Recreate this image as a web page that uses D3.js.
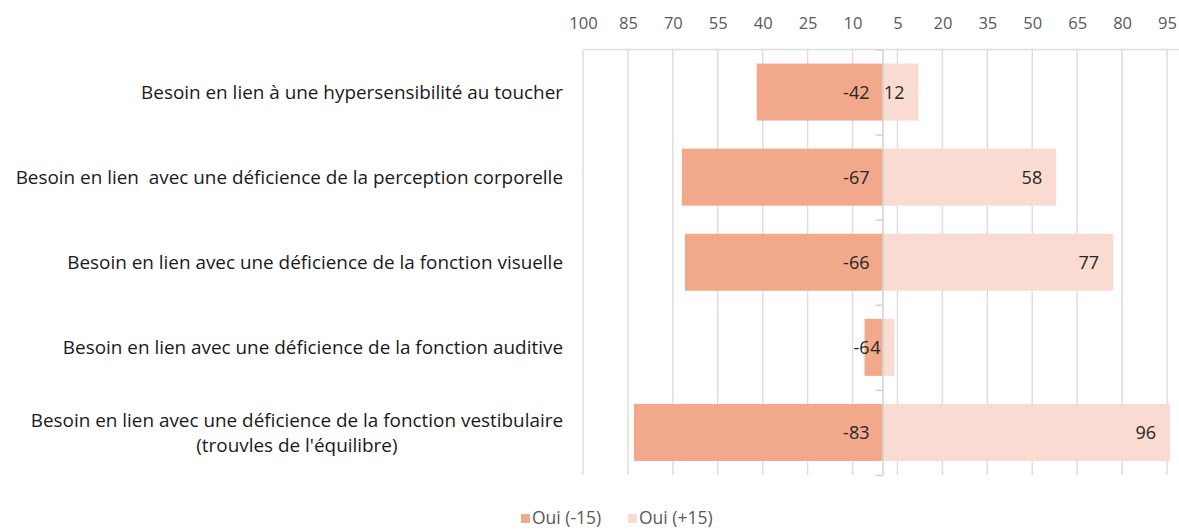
<!DOCTYPE html>
<html>
<head>
<meta charset="utf-8">
<script src="https://cdn.jsdelivr.net/npm/d3@7"></script>
<style>
  body { margin: 0; background: #fff; }
  svg { font-family: "Open Sans", sans-serif; }
</style>
</head>
<body>
<div id="chart"></div>
<script>
'use strict';

// categories (last one on two lines)
var categories = [
    ["Besoin en lien à une hypersensibilité au toucher"],
    ["Besoin en lien  avec une déficience de la perception corporelle"],
    ["Besoin en lien avec une déficience de la fonction visuelle"],
    ["Besoin en lien avec une déficience de la fonction auditive"],
    ["Besoin en lien avec une déficience de la fonction vestibulaire", "(trouvles de l'équilibre)"]
];
var seriesNames = ["Oui (-15)", "Oui (+15)"];
var negValues = [-42, -67, -66, -6, -83];
var posValues = [12, 58, 77, 4, 96];
var tickValues = [-100, -85, -70, -55, -40, -25, -10, 5, 20, 35, 50, 65, 80, 95];
var colors = ["#F2A98B", "#F9DBD1"];

var width = 1179, height = 530;
var plotLeft = 583, plotTop = 49.5, plotBottom = 475;

var svg = d3.select("#chart").append("svg")
    .attr("width", width)
    .attr("height", height);

var x = d3.scaleLinear()
    .domain([-100, 99])
    .range([plotLeft, plotLeft + 199 * 2.995]);

var y = d3.scaleBand()
    .domain(d3.range(categories.length))
    .range([plotTop, plotBottom])
    .paddingInner(0.33)
    .paddingOuter(0.165);

// gridlines
svg.append("g").selectAll("line").data(tickValues).enter()
    .append("line")
    .attr("x1", function (d) { return x(d); })
    .attr("x2", function (d) { return x(d); })
    .attr("y1", plotTop)
    .attr("y2", plotBottom)
    .style("stroke", "#DEDEDE")
    .style("stroke-width", 1.5);

// top value axis
var xAxis = d3.axisTop(x)
    .tickValues(tickValues)
    .tickSize(0)
    .tickPadding(21)
    .tickFormat(function (d) { return Math.abs(d); });

var gx = svg.append("g")
    .attr("transform", "translate(0," + plotTop + ")")
    .call(xAxis);
gx.select(".domain").attr("d", "M" + plotLeft + ",0H" + x(99))
    .style("stroke", "#DEDEDE").style("stroke-width", 1.5);
gx.selectAll("text")
    .style("font-family", "'Open Sans', sans-serif")
    .style("font-size", "16.5px")
    .style("fill", "#595959");

// bars
var rows = svg.append("g");
rows.selectAll(".neg").data(negValues).enter()
    .append("rect")
    .attr("class", "neg")
    .attr("x", function (d) { return x(d); })
    .attr("y", function (d, i) { return y(i); })
    .attr("width", function (d) { return x(0) - x(d); })
    .attr("height", y.bandwidth())
    .style("fill", colors[0]);

rows.selectAll(".pos").data(posValues).enter()
    .append("rect")
    .attr("class", "pos")
    .attr("x", x(0))
    .attr("y", function (d, i) { return y(i); })
    .attr("width", function (d) { return x(d) - x(0); })
    .attr("height", y.bandwidth())
    .style("fill", colors[1]);

// category axis at zero
var yAxis = d3.axisLeft(d3.scaleLinear().domain([0, categories.length]).range([plotTop, plotBottom]))
    .tickValues(d3.range(categories.length + 1))
    .tickSize(7)
    .tickSizeOuter(0)
    .tickFormat("");
var gy = svg.append("g")
    .attr("transform", "translate(" + x(0) + ",0)")
    .call(yAxis);
gy.selectAll("line, path").style("stroke", "#D0D0D0").style("stroke-width", 1.5);

// value labels
rows.selectAll(".negLabel").data(negValues).enter()
    .append("text")
    .attr("x", x(0) - 13)
    .attr("y", function (d, i) { return y(i) + y.bandwidth() / 2; })
    .attr("dy", "0.36em")
    .attr("text-anchor", "end")
    .style("font-size", "18px")
    .style("fill", "#262626")
    .text(function (d) { return d; });

rows.selectAll(".posLabel").data(posValues).enter()
    .append("text")
    .attr("x", function (d) { return x(d) - 14; })
    .attr("y", function (d, i) { return y(i) + y.bandwidth() / 2; })
    .attr("dy", "0.36em")
    .attr("text-anchor", "end")
    .style("font-size", "18px")
    .style("fill", "#262626")
    .text(function (d) { return d; });

// category labels
var labelRight = 563;
categories.forEach(function (lines, i) {
    var cy = y(i) + y.bandwidth() / 2;
    var lh = 25;
    var t = svg.append("text")
        .attr("xml:space", "preserve")
        .style("font-size", "18.9px")
        .style("fill", "#1a1a1a");
    var spans = lines.map(function (s, k) {
        return t.append("tspan")
            .attr("y", cy + (k - (lines.length - 1) / 2) * lh)
            .attr("dy", "0.36em")
            .text(s);
    });
    var w = d3.max(spans, function (s) { return s.node().getComputedTextLength(); });
    spans.forEach(function (s) {
        s.attr("x", labelRight - w / 2).attr("text-anchor", "middle");
    });
});

// legend
var legend = svg.append("g");
var legendX = [521, 628];
seriesNames.forEach(function (name, i) {
    legend.append("rect")
        .attr("x", legendX[i])
        .attr("y", 514)
        .attr("width", 9)
        .attr("height", 9)
        .style("fill", colors[i]);
    legend.append("text")
        .attr("x", legendX[i] + 11)
        .attr("y", 518)
        .attr("dy", "0.36em")
        .style("font-size", "17.5px")
        .style("fill", "#595959")
        .text(name);
});
</script>
</body>
</html>
